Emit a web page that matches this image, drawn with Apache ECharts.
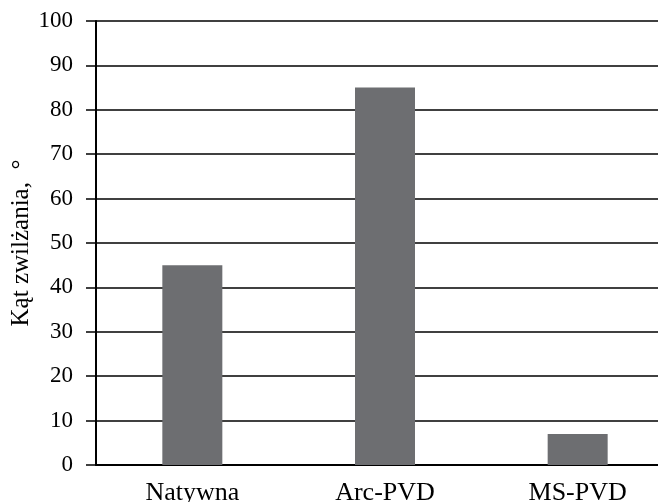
<!DOCTYPE html>
<html>
<head>
<meta charset="utf-8">
<script src="https://cdn.jsdelivr.net/npm/echarts@6/dist/echarts.min.js"></script>
<style>
html,body{margin:0;padding:0;background:#fff;overflow:hidden;}
#c{width:674px;height:502px;}
</style>
</head>
<body>
<div id="c"></div>
<script>
const categories = ["Natywna", "Arc-PVD", "MS-PVD"];
const values = [45, 85, 7];
const yTicks = [0, 10, 20, 30, 40, 50, 60, 70, 80, 90, 100];
const yName = "Kąt zwilżania,  °";

const chart = echarts.init(document.getElementById('c'), null, {renderer: 'canvas'});
const font = "'Liberation Serif', 'DejaVu Serif', serif";
chart.setOption({
  animation: false,
  grid: {left: 96, right: 0, top: 21, bottom: 37, outerBoundsMode: 'none', containLabel: false},
  xAxis: {
    type: 'category',
    data: categories,
    axisLine: {show: true, lineStyle: {color: '#000', width: 2}},
    axisTick: {show: false},
    axisLabel: {fontFamily: font, fontSize: 26, color: '#000', margin: 15}
  },
  yAxis: {
    type: 'value',
    min: yTicks[0],
    max: yTicks[yTicks.length - 1],
    interval: 10,
    name: yName,
    nameLocation: 'middle',
    nameGap: 62,
    nameMoveOverlap: false,
    nameTextStyle: {fontFamily: font, fontSize: 25, color: '#000'},
    axisLine: {show: true, lineStyle: {color: '#000', width: 2}},
    axisTick: {show: true, length: 10, lineStyle: {color: '#000', width: 1.5}},
    axisLabel: {fontFamily: font, fontSize: 23, color: '#000', margin: 23},
    splitLine: {show: true, lineStyle: {color: '#000', width: 1.5}}
  },
  series: [{
    type: 'bar',
    data: values,
    barWidth: 60,
    itemStyle: {color: '#6d6e71'}
  }]
});
</script>
</body>
</html>
